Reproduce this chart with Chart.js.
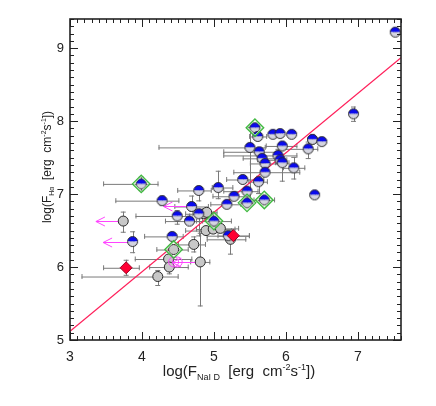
<!DOCTYPE html>
<html><head><meta charset="utf-8">
<script src="https://cdn.jsdelivr.net/npm/chart.js@4"></script>
<style>html,body{margin:0;padding:0;background:#fff;}canvas{display:block;}</style>
</head><body>
<canvas id="c" width="436" height="406"></canvas>
<script>
// ---- data ----
const xTicks = [3, 4, 5, 6, 7];
const yTicks = [5, 6, 7, 8, 9];
const xTitle = [["log(F",0],["NaI D",-1],["  [erg  cm",0],["-2",1],["s",0],["-1",1],["])",0]];
const yTitle = [["log(F",0],["Hα",-1],["  [erg  cm",0],["-2",1],["s",0],["-1",1],["])",0]];

const blueX  = [7.52,6.94,5.57,5.61,5.82,5.92,6.08,6.37,6.50,5.50,5.95,6.31,5.63,5.67,5.89,5.71,5.92,5.95,6.11,5.71,5.40,5.62,5.46,5.28,5.18,5.46,5.70,6.40,3.99,4.79,5.06,4.28,4.69,4.49,4.79,4.66,5.00,4.42,3.87,5.20];
const blueY  = [9.22,8.10,7.91,7.79,7.82,7.83,7.82,7.75,7.72,7.64,7.66,7.62,7.58,7.49,7.53,7.42,7.47,7.43,7.36,7.30,7.20,7.17,7.04,6.97,6.86,6.88,6.92,6.99,7.14,7.05,7.09,6.91,6.83,6.70,6.73,6.63,6.63,6.42,6.35,6.43];
const blueXlo= [7.49,6.89,5.50,5.49,5.78,5.88,6.04,6.30,6.44,4.23,5.72,5.95,5.13,5.40,5.13,5.50,5.60,5.85,5.96,5.27,5.17,5.48,5.13,4.98,4.95,5.38,5.55,6.35,3.46,4.49,4.97,3.63,4.45,3.91,4.60,4.32,4.75,4.03,3.84,4.90];
const blueXhi= [7.55,6.99,5.64,5.74,5.86,5.96,6.12,6.44,6.56,5.72,6.16,6.45,5.90,5.86,6.16,5.92,6.02,6.05,6.27,6.20,5.70,5.75,5.62,5.48,5.38,5.55,5.85,6.45,4.23,4.97,5.27,4.52,4.93,4.67,4.98,4.85,5.25,4.58,3.90,5.50];
const blueYlo= [9.19,7.99,7.86,7.74,7.79,7.79,7.79,7.68,7.66,6.92,7.60,7.48,7.52,7.45,7.44,7.38,7.40,7.17,7.20,7.25,7.15,7.00,6.99,6.92,6.81,6.84,6.88,6.94,7.04,6.90,6.93,6.84,6.76,6.58,6.42,6.58,6.58,6.37,6.19,6.40];
const blueYhi= [9.25,8.20,7.96,7.84,7.85,7.87,7.85,7.82,7.78,7.92,7.72,7.72,7.64,7.53,7.62,7.46,7.54,7.52,7.51,7.35,7.25,7.25,7.09,7.02,6.91,6.92,6.96,7.04,7.24,7.11,7.32,6.98,6.98,6.78,6.80,6.68,6.68,6.47,6.49,6.46];

const grayX  = [3.74,4.86,4.90,4.89,4.99,5.09,4.72,4.44,4.37,4.38,4.22,4.81,5.23];
const grayY  = [6.63,6.73,6.75,6.50,6.52,6.53,6.31,6.24,6.11,6.00,5.87,6.07,6.38];
const grayXlo= [3.71,4.70,4.80,4.60,4.75,4.90,4.50,4.20,3.90,4.10,3.16,4.67,4.90];
const grayXhi= [3.77,5.00,5.05,5.25,5.30,5.35,4.89,4.65,4.70,4.65,4.51,4.95,5.45];
const grayYlo= [6.47,6.68,6.70,6.45,6.47,6.48,6.20,6.19,6.06,5.90,5.74,5.46,6.17];
const grayYhi= [6.76,6.78,6.80,6.55,6.57,6.58,6.42,6.29,6.16,6.10,5.96,6.47,6.45];

const redX  = [3.78,5.27];
const redY  = [5.99,6.43];
const redXlo= [3.46,5.05];
const redXhi= [3.97,5.50];
const redYlo= [5.88,6.40];
const redYhi= [6.10,6.46];

const magX = [4.44,4.49];
const magY = [6.07,6.07];

const arrowFromX = [3.74,3.87,4.69,4.81];
const arrowToX   = [3.36,3.46,4.30,4.42];
const arrowY     = [6.63,6.35,6.83,6.07];

const greenX = [5.57,5.46,5.70,3.99,5.00,4.44];
const greenY = [7.91,6.88,6.92,7.14,6.63,6.24];

const fitX = [3.0, 7.6];
const fitY = [5.12, 8.87];

// ---- helpers ----
const zip = (xs, ys) => xs.map((x, i) => ({x, y: ys[i]}));

function halfCircle() {
  const c = document.createElement('canvas');
  c.width = 13; c.height = 13;
  const g = c.getContext('2d');
  const cx = 6.5, cy = 6.5, r = 5;
  g.beginPath(); g.arc(cx, cy, r, Math.PI, 2*Math.PI); g.closePath();
  g.fillStyle = '#0a0aee'; g.fill();
  g.beginPath(); g.arc(cx, cy, r, 0, Math.PI); g.closePath();
  g.fillStyle = '#d4d4e0'; g.fill();
  g.beginPath(); g.arc(cx, cy, r, 0, 2*Math.PI);
  g.strokeStyle = '#2a2a2a'; g.lineWidth = 1; g.stroke();
  return c;
}

const errGroups = [
  [blueX, blueY, blueXlo, blueXhi, blueYlo, blueYhi],
  [grayX, grayY, grayXlo, grayXhi, grayYlo, grayYhi],
  [redX, redY, redXlo, redXhi, redYlo, redYhi]
];

const errorBars = {
  id: 'errorBars',
  beforeDatasetsDraw(chart) {
    const {ctx, scales: {x, y}} = chart;
    ctx.save();
    ctx.strokeStyle = '#7a7a7a'; ctx.lineWidth = 1;
    const cap = 2.5;
    errGroups.forEach(([X, Y, XL, XH, YL, YH]) => {
      X.forEach((v, i) => {
        const px = x.getPixelForValue(v), py = y.getPixelForValue(Y[i]);
        const xl = x.getPixelForValue(XL[i]), xh = x.getPixelForValue(XH[i]);
        const yl = y.getPixelForValue(YL[i]), yh = y.getPixelForValue(YH[i]);
        ctx.beginPath();
        if (xh - xl > 2) {
          ctx.moveTo(xl, py + 0.5); ctx.lineTo(xh, py + 0.5);
          ctx.moveTo(xl + 0.5, py - cap); ctx.lineTo(xl + 0.5, py + cap);
          ctx.moveTo(xh - 0.5, py - cap); ctx.lineTo(xh - 0.5, py + cap);
        }
        if (yl - yh > 2) {
          ctx.moveTo(Math.round(px) + 0.5, yl); ctx.lineTo(Math.round(px) + 0.5, yh);
          ctx.moveTo(px - cap, yl - 0.5); ctx.lineTo(px + cap, yl - 0.5);
          ctx.moveTo(px - cap, yh + 0.5); ctx.lineTo(px + cap, yh + 0.5);
        }
        ctx.stroke();
      });
    });
    // magenta limit arrows
    ctx.strokeStyle = '#ff44ff'; ctx.lineWidth = 1;
    arrowFromX.forEach((fx, i) => {
      const x0 = x.getPixelForValue(fx), x1 = x.getPixelForValue(arrowToX[i]);
      const py = Math.round(y.getPixelForValue(arrowY[i])) + 0.5;
      ctx.beginPath();
      ctx.moveTo(x0, py); ctx.lineTo(x1, py);
      ctx.moveTo(x1 + 9, py - 4.5); ctx.lineTo(x1, py); ctx.lineTo(x1 + 9, py + 4.5);
      ctx.stroke();
    });
    ctx.restore();
  }
};

function drawRich(ctx, segs, cx, cy, size, small) {
  const font = (s) => (s ? small : size) + 'px "Liberation Sans", Arial, sans-serif';
  const widths = segs.map(([t, s]) => { ctx.font = font(s); return ctx.measureText(t).width; });
  const total = widths.reduce((a, b) => a + b, 0);
  let xx = cx - total / 2;
  segs.forEach(([t, s], i) => {
    ctx.font = font(s);
    const dy = s === -1 ? Math.round(size * 0.28) : (s === 1 ? -Math.round(size * 0.42) : 0);
    ctx.fillText(t, xx, cy + dy);
    xx += widths[i];
  });
}

const frame = {
  id: 'frame',
  afterDraw(chart) {
    const {ctx, chartArea: a, scales: {x, y}} = chart;
    ctx.save();
    ctx.strokeStyle = '#222'; ctx.lineWidth = 1;
    ctx.beginPath();
    for (let k = 30; k <= 76; k++) {
      const v = k / 10;
      const px = Math.round(x.getPixelForValue(v)) + 0.5;
      const L = (k % 10 === 0) ? 8 : 4;
      ctx.moveTo(px, a.bottom); ctx.lineTo(px, a.bottom - L);
      ctx.moveTo(px, a.top); ctx.lineTo(px, a.top + L);
    }
    for (let k = 50; k <= 94; k++) {
      const v = k / 10;
      const py = Math.round(y.getPixelForValue(v)) + 0.5;
      const L = (k % 10 === 0) ? 8 : 4;
      ctx.moveTo(a.left, py); ctx.lineTo(a.left + L, py);
      ctx.moveTo(a.right, py); ctx.lineTo(a.right - L, py);
    }
    ctx.stroke();
    ctx.lineWidth = 1.6;
    ctx.strokeRect(a.left, a.top, a.right - a.left, a.bottom - a.top);
    // axis titles
    ctx.fillStyle = '#222';
    ctx.textBaseline = 'alphabetic';
    drawRich(ctx, xTitle, 239, 376, 15, 9);
    ctx.translate(51, 167);
    ctx.rotate(-Math.PI / 2);
    drawRich(ctx, yTitle, 0, 0, 12, 7);
    ctx.restore();
  }
};

Chart.defaults.font.family = '"Liberation Sans", Arial, sans-serif';
Chart.defaults.font.size = 14;
Chart.defaults.color = '#222';

new Chart(document.getElementById('c'), {
  type: 'scatter',
  data: {
    datasets: [
      { type: 'line', data: zip(fitX, fitY), borderColor: '#ff1f5a', borderWidth: 1.3,
        pointRadius: 0, fill: false, order: 8 },
      { data: zip(grayX, grayY), pointStyle: 'circle', pointRadius: 5,
        backgroundColor: '#c8c8c8', borderColor: '#2a2a2a', borderWidth: 1, order: 7 },
      { data: zip(blueX, blueY), pointStyle: halfCircle(), order: 6 },
      { data: zip(redX, redY), pointStyle: 'rectRot', pointRadius: 6,
        backgroundColor: '#ff0033', borderColor: '#990022', borderWidth: 1, order: 5 },
      { data: zip(magX, magY), pointStyle: 'circle', pointRadius: 5,
        backgroundColor: 'rgba(0,0,0,0)', borderColor: '#ff44ff', borderWidth: 1, order: 4 },
      { data: zip(greenX, greenY), pointStyle: 'rectRot', pointRadius: 7.5,
        backgroundColor: 'rgba(0,0,0,0)', borderColor: '#b4eeb4', borderWidth: 1, order: 3 },
      { data: zip(greenX, greenY), pointStyle: 'rectRot', pointRadius: 8.8,
        backgroundColor: 'rgba(0,0,0,0)', borderColor: '#3fb83f', borderWidth: 1.3, order: 2 }
    ]
  },
  options: {
    responsive: false,
    animation: false,
    events: [],
    layout: { padding: { left: 0, right: 35, top: 19, bottom: 0 } },
    plugins: { legend: { display: false }, tooltip: { enabled: false } },
    scales: {
      x: {
        type: 'linear', min: 3, max: 7.6,
        grid: { display: false, drawTicks: false },
        border: { display: false },
        ticks: { stepSize: 1, includeBounds: false, padding: 9, maxRotation: 0,
          callback: v => xTicks.includes(v) ? String(v) : '' },
        afterFit: s => { s.height = 66; }
      },
      y: {
        type: 'linear', min: 5, max: 9.4,
        grid: { display: false, drawTicks: false },
        border: { display: false },
        ticks: { stepSize: 1, includeBounds: false, padding: 6, font: { size: 13 },
          callback: v => yTicks.includes(v) ? String(v) : '' },
        afterFit: s => { s.width = 70; }
      }
    }
  },
  plugins: [errorBars, frame]
});
</script>
</body></html>
